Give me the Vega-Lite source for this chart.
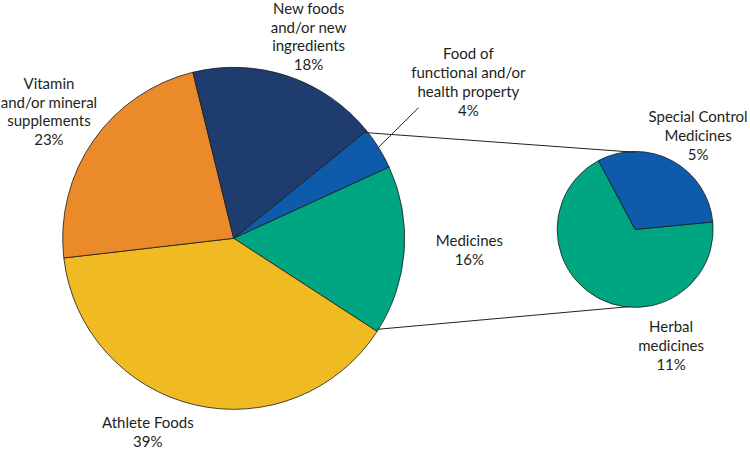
{
  "$schema": "https://vega.github.io/schema/vega-lite/v6.json",
  "width": 750,
  "height": 450,
  "padding": 0,
  "autosize": {"type": "fit", "contains": "padding"},
  "background": "white",
  "config": {"view": {"stroke": null}},
  "datasets": {
    "main": [
      {"name": "Food of functional and/or health property", "label": "Food of\nfunctional and/or\nhealth property", "pct": 4, "k": 1},
      {"name": "Medicines", "label": "Medicines", "pct": 16, "k": 2},
      {"name": "Athlete Foods", "label": "Athlete Foods", "pct": 39, "k": 3},
      {"name": "Vitamin and/or mineral supplements", "label": "Vitamin\nand/or mineral\nsupplements", "pct": 23, "k": 4},
      {"name": "New foods and/or new ingredients", "label": "New foods\nand/or new\ningredients", "pct": 18, "k": 5}
    ],
    "sec": [
      {"name": "Herbal medicines", "label": "Herbal\nmedicines", "pct": 11, "k": 1},
      {"name": "Special Control Medicines", "label": "Special Control\nMedicines", "pct": 5, "k": 2}
    ]
  },
  "resolve": {"scale": {"theta": "independent"}},
  "layer": [
    {
      "data": {"name": "main"},
      "mark": {"type": "arc", "outerRadius": 171, "stroke": "#1a1a1a", "strokeWidth": 0.8},
      "encoding": {
        "x": {"datum": 233, "type": "quantitative", "scale": {"domain": [0, 750], "nice": false, "zero": false}, "axis": null},
        "y": {"datum": 241, "type": "quantitative", "scale": {"domain": [0, 450], "nice": false, "zero": false, "reverse": true}, "axis": null},
        "theta": {"field": "pct", "type": "quantitative", "stack": true, "scale": {"range": [0.8901, 7.1733]}},
        "order": {"field": "k", "type": "quantitative"},
        "color": {
          "field": "name", "type": "nominal", "legend": null,
          "scale": {
            "domain": ["Food of functional and/or health property", "Medicines", "Athlete Foods", "Vitamin and/or mineral supplements", "New foods and/or new ingredients", "Herbal medicines", "Special Control Medicines"],
            "range": ["#0D5BAA", "#00A682", "#F0BB22", "#EA8A2A", "#1E3C6E", "#00A682", "#0D5BAA"]
          }
        }
      }
    },
    {
      "data": {"name": "sec"},
      "mark": {"type": "arc", "outerRadius": 78, "stroke": "#1a1a1a", "strokeWidth": 0.8},
      "encoding": {
        "x": {"datum": 635, "type": "quantitative", "axis": null},
        "y": {"datum": 232, "type": "quantitative", "axis": null},
        "theta": {"field": "pct", "type": "quantitative", "stack": true, "scale": {"range": [1.4748, 7.758]}},
        "order": {"field": "k", "type": "quantitative"},
        "color": {"field": "name", "type": "nominal", "legend": null}
      }
    },
    {
      "data": {"values": [{}]},
      "mark": {"type": "rule", "color": "#222222", "strokeWidth": 1},
      "encoding": {
        "x": {"datum": 364, "type": "quantitative", "axis": null},
        "y": {"datum": 134, "type": "quantitative", "axis": null},
        "x2": {"datum": 635},
        "y2": {"datum": 154}
      }
    },
    {
      "data": {"values": [{}]},
      "mark": {"type": "rule", "color": "#222222", "strokeWidth": 1},
      "encoding": {
        "x": {"datum": 377, "type": "quantitative", "axis": null},
        "y": {"datum": 333, "type": "quantitative", "axis": null},
        "x2": {"datum": 630},
        "y2": {"datum": 310}
      }
    },
    {
      "data": {"values": [{}]},
      "mark": {"type": "rule", "color": "#222222", "strokeWidth": 1},
      "encoding": {
        "x": {"datum": 418, "type": "quantitative", "axis": null},
        "y": {"datum": 109, "type": "quantitative", "axis": null},
        "x2": {"datum": 378},
        "y2": {"datum": 149}
      }
    },
    {
      "data": {"name": "main"},
      "transform": [{"filter": "datum.k === 5"}, {"calculate": "datum.label + '\\n' + datum.pct + '%'", "as": "t"}],
      "mark": {"type": "text", "lineBreak": "\n", "font": "Lato", "fontSize": 15, "lineHeight": 18.7, "color": "#231F20", "align": "center", "baseline": "alphabetic"},
      "encoding": {"x": {"datum": 308, "type": "quantitative", "axis": null}, "y": {"datum": 14, "type": "quantitative", "axis": null}, "text": {"field": "t"}}
    },
    {
      "data": {"name": "main"},
      "transform": [{"filter": "datum.k === 1"}, {"calculate": "datum.label + '\\n' + datum.pct + '%'", "as": "t"}],
      "mark": {"type": "text", "lineBreak": "\n", "font": "Lato", "fontSize": 15, "lineHeight": 18.9, "color": "#231F20", "align": "center", "baseline": "alphabetic"},
      "encoding": {"x": {"datum": 468, "type": "quantitative", "axis": null}, "y": {"datum": 60, "type": "quantitative", "axis": null}, "text": {"field": "t"}}
    },
    {
      "data": {"name": "main"},
      "transform": [{"filter": "datum.k === 4"}, {"calculate": "datum.label + '\\n' + datum.pct + '%'", "as": "t"}],
      "mark": {"type": "text", "lineBreak": "\n", "font": "Lato", "fontSize": 15, "lineHeight": 18.7, "color": "#231F20", "align": "center", "baseline": "alphabetic"},
      "encoding": {"x": {"datum": 48, "type": "quantitative", "axis": null}, "y": {"datum": 90, "type": "quantitative", "axis": null}, "text": {"field": "t"}}
    },
    {
      "data": {"name": "main"},
      "transform": [{"filter": "datum.k === 2"}, {"calculate": "datum.label + '\\n' + datum.pct + '%'", "as": "t"}],
      "mark": {"type": "text", "lineBreak": "\n", "font": "Lato", "fontSize": 15, "lineHeight": 19, "color": "#231F20", "align": "center", "baseline": "alphabetic"},
      "encoding": {"x": {"datum": 469, "type": "quantitative", "axis": null}, "y": {"datum": 249, "type": "quantitative", "axis": null}, "text": {"field": "t"}}
    },
    {
      "data": {"name": "main"},
      "transform": [{"filter": "datum.k === 3"}, {"calculate": "datum.label + '\\n' + datum.pct + '%'", "as": "t"}],
      "mark": {"type": "text", "lineBreak": "\n", "font": "Lato", "fontSize": 15, "lineHeight": 19, "color": "#231F20", "align": "center", "baseline": "alphabetic"},
      "encoding": {"x": {"datum": 147, "type": "quantitative", "axis": null}, "y": {"datum": 433, "type": "quantitative", "axis": null}, "text": {"field": "t"}}
    },
    {
      "data": {"name": "sec"},
      "transform": [{"filter": "datum.k === 2"}, {"calculate": "datum.label + '\\n' + datum.pct + '%'", "as": "t"}],
      "mark": {"type": "text", "lineBreak": "\n", "font": "Lato", "fontSize": 15, "lineHeight": 19, "color": "#231F20", "align": "center", "baseline": "alphabetic"},
      "encoding": {"x": {"datum": 698, "type": "quantitative", "axis": null}, "y": {"datum": 123, "type": "quantitative", "axis": null}, "text": {"field": "t"}}
    },
    {
      "data": {"name": "sec"},
      "transform": [{"filter": "datum.k === 1"}, {"calculate": "datum.label + '\\n' + datum.pct + '%'", "as": "t"}],
      "mark": {"type": "text", "lineBreak": "\n", "font": "Lato", "fontSize": 15, "lineHeight": 19, "color": "#231F20", "align": "center", "baseline": "alphabetic"},
      "encoding": {"x": {"datum": 671, "type": "quantitative", "axis": null}, "y": {"datum": 336, "type": "quantitative", "axis": null}, "text": {"field": "t"}}
    }
  ]
}
